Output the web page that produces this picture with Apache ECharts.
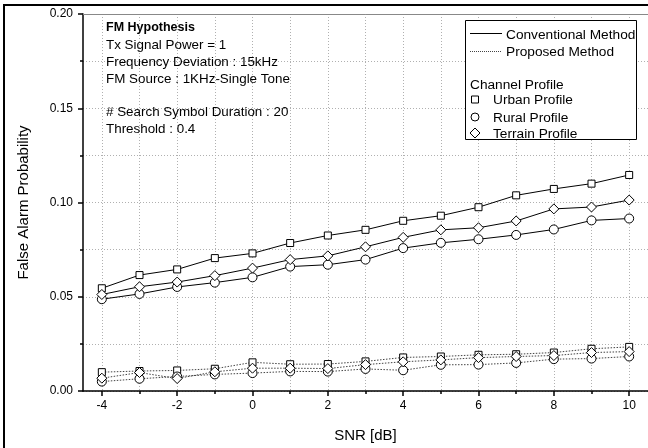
<!DOCTYPE html>
<html>
<head>
<meta charset="utf-8">
<script src="https://cdn.jsdelivr.net/npm/echarts@6/dist/echarts.min.js"></script>
<style>html,body{margin:0;padding:0;background:#fff;}#c{width:648px;height:448px;}</style>
</head>
<body>
<div id="c"></div>
<script>
const snr = [-4,-3,-2,-1,0,1,2,3,4,5,6,7,8,9,10];
const xMajorTicks = [-4,-2,0,2,4,6,8,10];
const convUrban   = [0.0545,0.0615,0.0645,0.0705,0.0730,0.0785,0.0825,0.0855,0.0903,0.0930,0.0975,0.1038,0.1072,0.1100,0.1146];
const convRural   = [0.0487,0.0515,0.0552,0.0575,0.0603,0.0660,0.0670,0.0697,0.0758,0.0786,0.0805,0.0828,0.0857,0.0905,0.0915];
const convTerrain = [0.0512,0.0553,0.0578,0.0612,0.0652,0.0697,0.0717,0.0765,0.0815,0.0855,0.0866,0.0902,0.0966,0.0976,0.1013];
const propUrban   = [0.0100,0.0106,0.0109,0.0118,0.0152,0.0142,0.0143,0.0157,0.0178,0.0183,0.0192,0.0195,0.0204,0.0224,0.0234];
const propRural   = [0.0050,0.0065,0.0077,0.0088,0.0095,0.0104,0.0103,0.0117,0.0110,0.0139,0.0140,0.0149,0.0169,0.0172,0.0183];
const propTerrain = [0.0068,0.0098,0.0066,0.0102,0.0121,0.0121,0.0119,0.0140,0.0155,0.0165,0.0177,0.0183,0.0188,0.0204,0.0209];

const FONT = 'Liberation Sans, Arial, sans-serif';
const chart = echarts.init(document.getElementById('c'), null, {renderer: 'canvas'});

function mk(name, arr, symbol, size, dotted) {
  return {
    name: name, type: 'line', xAxisIndex: 0, yAxisIndex: 0,
    data: snr.map((x, i) => [x, arr[i]]),
    symbol: symbol, symbolSize: size, showSymbol: true,
    itemStyle: {color: '#fff', borderColor: '#000', borderWidth: 1},
    lineStyle: {color: dotted ? '#444' : '#000', width: 1, type: dotted ? [1.5, 1.5] : 'solid'},
    emphasis: {disabled: true}, animation: false, z: dotted ? 3 : 4
  };
}

function gridLine() {
  return {show: true, lineStyle: {color: '#b0b0b0', type: [1, 2], width: 1}};
}

const LF = '13.7px ' + FONT;
const legendGraphics = [
  {type: 'rect', shape: {x: 465.5, y: 20.5, width: 171, height: 119}, style: {fill: '#fff', stroke: '#000', lineWidth: 1}, z: 100},
  {type: 'line', shape: {x1: 470, y1: 33.5, x2: 502, y2: 33.5}, style: {stroke: '#000', lineWidth: 1}, z: 101},
  {type: 'text', x: 506, y: 35, style: {text: 'Conventional Method', font: LF, fill: '#000', verticalAlign: 'middle'}, z: 101},
  {type: 'line', shape: {x1: 470, y1: 51.5, x2: 502, y2: 51.5}, style: {stroke: '#444', lineWidth: 1, lineDash: [1, 1]}, z: 101},
  {type: 'text', x: 506, y: 52.5, style: {text: 'Proposed Method', font: LF, fill: '#000', verticalAlign: 'middle'}, z: 101},
  {type: 'text', x: 470, y: 85, style: {text: 'Channel Profile', font: LF, fill: '#000', verticalAlign: 'middle'}, z: 101},
  {type: 'rect', shape: {x: 471.5, y: 96, width: 7, height: 7}, style: {fill: '#fff', stroke: '#000', lineWidth: 1}, z: 101},
  {type: 'text', x: 493, y: 100.5, style: {text: 'Urban Profile', font: LF, fill: '#000', verticalAlign: 'middle'}, z: 101},
  {type: 'circle', shape: {cx: 475, cy: 117, r: 4}, style: {fill: '#fff', stroke: '#000', lineWidth: 1}, z: 101},
  {type: 'text', x: 493, y: 118, style: {text: 'Rural Profile', font: LF, fill: '#000', verticalAlign: 'middle'}, z: 101},
  {type: 'polygon', shape: {points: [[475, 128], [480, 133], [475, 138], [470, 133]]}, style: {fill: '#fff', stroke: '#000', lineWidth: 1}, z: 101},
  {type: 'text', x: 493, y: 134, style: {text: 'Terrain Profile', font: LF, fill: '#000', verticalAlign: 'middle'}, z: 101}
];

const noteLines = [
  ['FM Hypothesis', 27.5, true],
  ['Tx Signal Power = 1', 45, false],
  ['Frequency Deviation : 15kHz', 62.5, false],
  ['FM Source : 1KHz-Single Tone', 79.5, false],
  ['# Search Symbol Duration : 20', 112.5, false],
  ['Threshold : 0.4', 129, false]
];
const noteGraphics = noteLines.map(n => ({
  type: 'text', x: 106, y: n[1], z: 90,
  style: {text: n[0], font: (n[2] ? 'bold 12.5px ' : '13.4px ') + FONT, fill: '#000', verticalAlign: 'middle'}
}));

const frameGraphics = [
  {type: 'rect', shape: {x: 3, y: 4, width: 645, height: 2}, style: {fill: '#000'}, z: 110},
  {type: 'rect', shape: {x: 3, y: 4, width: 2, height: 444}, style: {fill: '#000'}, z: 110}
];

chart.setOption({
  animation: false,
  backgroundColor: '#fff',
  grid: {left: 83, top: 14, width: 566, height: 381, containLabel: false},
  xAxis: [
    {
      type: 'value', min: -4.5, max: 10.5, position: 'bottom',
      name: 'SNR [dB]', nameLocation: 'middle', nameGap: 37,
      nameTextStyle: {fontSize: 15, fontFamily: FONT, color: '#000'},
      axisLine: {show: true, onZero: false, lineStyle: {color: '#000', width: 1.5}},
      axisTick: {show: true, customValues: xMajorTicks, length: 5, lineStyle: {color: '#000', width: 1.5}},
      axisLabel: {show: true, customValues: xMajorTicks, fontSize: 12, fontFamily: FONT, color: '#000', margin: 9},
      splitLine: {show: false}
    },
    {
      type: 'value', min: -4.5, max: 10.5, position: 'bottom',
      axisLine: {show: false, onZero: false},
      axisTick: {show: true, customValues: snr, length: 3, lineStyle: {color: '#000', width: 1.5}},
      axisLabel: {show: false},
      splitLine: gridLine()
    },
    {
      type: 'value', min: -4.5, max: 10.5, position: 'top',
      axisLine: {show: true, onZero: false, lineStyle: {color: '#888', width: 1}},
      axisTick: {show: false}, axisLabel: {show: false}, splitLine: {show: false}
    }
  ],
  yAxis: {
    type: 'value', min: 0, max: 0.2, interval: 0.05, position: 'left',
    name: 'False Alarm Probability', nameLocation: 'middle', nameGap: 52,
    nameTextStyle: {fontSize: 15, fontFamily: FONT, color: '#000'},
    axisLine: {show: true, onZero: false, lineStyle: {color: '#000', width: 1.5}},
    axisTick: {show: true, length: 5, lineStyle: {color: '#000', width: 1.5}},
    minorTick: {show: true, splitNumber: 2, length: 3, lineStyle: {color: '#000', width: 1.5}},
    axisLabel: {fontSize: 12, fontFamily: FONT, color: '#000', margin: 10, formatter: v => v.toFixed(2)},
    splitLine: gridLine(),
    minorSplitLine: gridLine()
  },
  graphic: {elements: noteGraphics.concat(legendGraphics, frameGraphics)},
  series: [
    mk('Conventional Urban', convUrban, 'rect', 7, false),
    mk('Conventional Rural', convRural, 'circle', 9, false),
    mk('Conventional Terrain', convTerrain, 'diamond', 10, false),
    mk('Proposed Urban', propUrban, 'rect', 7, true),
    mk('Proposed Rural', propRural, 'circle', 9, true),
    mk('Proposed Terrain', propTerrain, 'diamond', 10, true)
  ]
});
</script>
</body>
</html>
